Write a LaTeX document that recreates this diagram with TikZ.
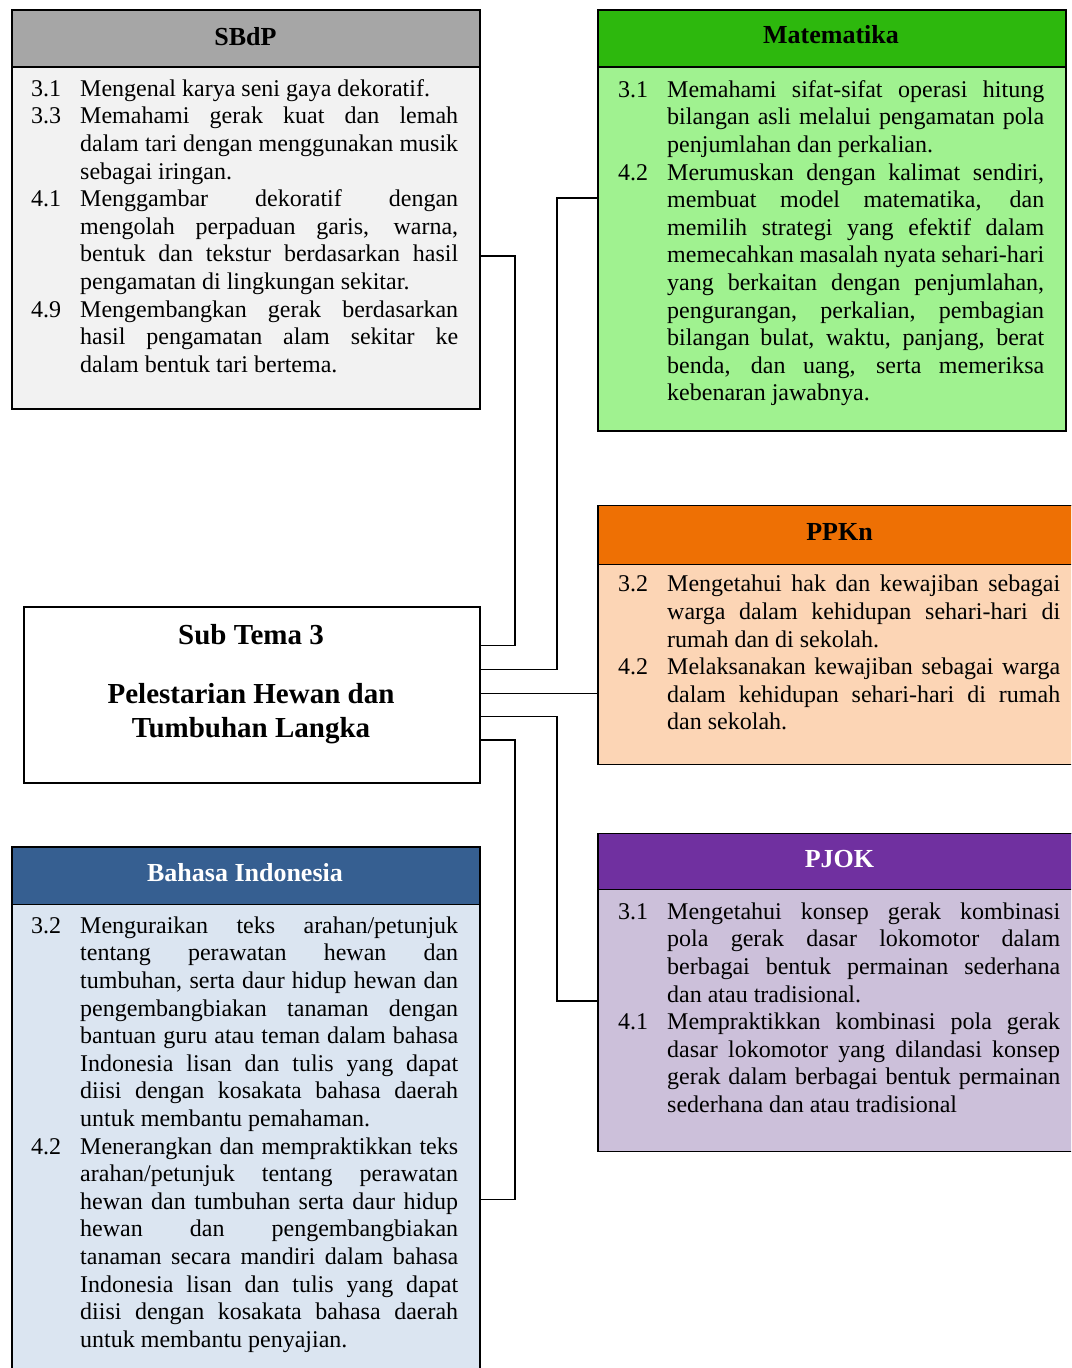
\documentclass[tikz,border=0pt]{standalone}
\usepackage{fontspec}
\setmainfont{Liberation Serif}

\definecolor{sbdpHead}{HTML}{A6A6A6}
\definecolor{sbdpBody}{HTML}{F2F2F2}
\definecolor{matHead}{HTML}{2DB80D}
\definecolor{matBody}{HTML}{A0F290}
\definecolor{ppknHead}{HTML}{EE7004}
\definecolor{ppknBody}{HTML}{FCD5B5}
\definecolor{pjokHead}{HTML}{7030A0}
\definecolor{pjokBody}{HTML}{CCC0DA}
\definecolor{bindHead}{HTML}{365F91}
\definecolor{bindBody}{HTML}{DBE5F1}

% justified competency lines with a hanging number column
\newlength\kdnum \setlength\kdnum{49pt}
\newcommand\kdfirst[2]{\hbox to \hsize{\strut\makebox[\kdnum][l]{#1}\hbox to \dimexpr\hsize-\kdnum\relax{#2}}}
\newcommand\kdsingle[2]{\hbox to \hsize{\strut\makebox[\kdnum][l]{#1}#2\hfil}}
\newcommand\kdline[1]{\hbox to \hsize{\strut\hskip\kdnum\hbox to \dimexpr\hsize-\kdnum\relax{#1}}}
\newcommand\kdlast[1]{\hbox to \hsize{\strut\hskip\kdnum #1\hfil}}
\newcommand\kdblock[2]{\vbox{\fontsize{24}{27.6}\selectfont\hsize=#1\relax #2}}

\begin{document}
\begin{tikzpicture}[x=1pt,y=-1pt,
  panel/.style={draw=black, line width=1.6pt, anchor=north west, inner sep=0pt},
  head/.style={anchor=base, inner sep=0pt, font=\fontsize{26}{30}\selectfont\bfseries},
  listtext/.style={anchor=north west, inner sep=0pt},
  subtitle/.style={anchor=base, inner sep=0pt, font=\fontsize{29}{34}\selectfont\bfseries},
  link/.style={draw=black, line width=1.6pt}]
\useasboundingbox (0,0) rectangle (1071,1368);
\clip (0,0) rectangle (1071,1368);

% ---------- SBdP ----------
\node[panel, fill=sbdpBody, minimum width=468pt, minimum height=399pt] (sbdp) at (11,9) {};
\node[panel, fill=sbdpHead, minimum width=468pt, minimum height=57pt] (sbdp-bar) at (11,9) {};
\node[head] (sbdp-title) at (245.5,45.5) {SBdP};
\node[listtext] (sbdp-text) at (31,76.7) {\kdblock{427pt}{%
  \kdsingle{3.1}{Mengenal karya seni gaya dekoratif.}
  \kdfirst{3.3}{Memahami gerak kuat dan lemah}
  \kdline{dalam tari dengan menggunakan musik}
  \kdlast{sebagai iringan.}
  \kdfirst{4.1}{Menggambar dekoratif dengan}
  \kdline{mengolah perpaduan garis, warna,}
  \kdline{bentuk dan tekstur berdasarkan hasil}
  \kdlast{pengamatan di lingkungan sekitar.}
  \kdfirst{4.9}{Mengembangkan gerak berdasarkan}
  \kdline{hasil pengamatan alam sekitar ke}
  \kdlast{dalam bentuk tari bertema.}}};

% ---------- Matematika ----------
\node[panel, fill=matBody, minimum width=468pt, minimum height=421pt] (mat) at (597,9) {};
\node[panel, fill=matHead, minimum width=468pt, minimum height=57pt] (mat-bar) at (597,9) {};
\node[head] (mat-title) at (831,43.5) {Matematika};
\node[listtext] (mat-text) at (618,77.7) {\kdblock{426pt}{%
  \kdfirst{3.1}{Memahami sifat-sifat operasi hitung}
  \kdline{bilangan asli melalui pengamatan pola}
  \kdlast{penjumlahan dan perkalian.}
  \kdfirst{4.2}{Merumuskan dengan kalimat sendiri,}
  \kdline{membuat model matematika, dan}
  \kdline{memilih strategi yang efektif dalam}
  \kdline{memecahkan masalah nyata sehari-hari}
  \kdline{yang berkaitan dengan penjumlahan,}
  \kdline{pengurangan, perkalian, pembagian}
  \kdline{bilangan bulat, waktu, panjang, berat}
  \kdline{benda, dan uang, serta memeriksa}
  \kdlast{kebenaran jawabnya.}}};

% ---------- PPKn ----------
\node[panel, fill=ppknBody, minimum width=485pt, minimum height=259pt] (ppkn) at (597,504.5) {};
\node[panel, fill=ppknHead, minimum width=485pt, minimum height=59pt] (ppkn-bar) at (597,504.5) {};
\node[head] (ppkn-title) at (839.5,540) {PPKn};
\node[listtext] (ppkn-text) at (618,572.4) {\kdblock{442pt}{%
  \kdfirst{3.2}{Mengetahui hak dan kewajiban sebagai}
  \kdline{warga dalam kehidupan sehari-hari di}
  \kdlast{rumah dan di sekolah.}
  \kdfirst{4.2}{Melaksanakan kewajiban sebagai warga}
  \kdline{dalam kehidupan sehari-hari di rumah}
  \kdlast{dan sekolah.}}};

% ---------- PJOK ----------
\node[panel, fill=pjokBody, minimum width=485pt, minimum height=318pt] (pjok) at (597,832.5) {};
\node[panel, fill=pjokHead, minimum width=485pt, minimum height=56pt] (pjok-bar) at (597,832.5) {};
\node[head, text=white] (pjok-title) at (839.5,867.7) {PJOK};
\node[listtext] (pjok-text) at (618,899.7) {\kdblock{442pt}{%
  \kdfirst{3.1}{Mengetahui konsep gerak kombinasi}
  \kdline{pola gerak dasar lokomotor dalam}
  \kdline{berbagai bentuk permainan sederhana}
  \kdlast{dan atau tradisional.}
  \kdfirst{4.1}{Mempraktikkan kombinasi pola gerak}
  \kdline{dasar lokomotor yang dilandasi konsep}
  \kdline{gerak dalam berbagai bentuk permainan}
  \kdlast{sederhana dan atau tradisional}}};

% ---------- Bahasa Indonesia ----------
\node[panel, fill=bindBody, minimum width=468pt, minimum height=540pt] (bind) at (11,846) {};
\node[panel, fill=bindHead, minimum width=468pt, minimum height=57.5pt] (bind-bar) at (11,846) {};
\node[head, text=white] (bind-title) at (245,881.7) {Bahasa Indonesia};
\node[listtext] (bind-text) at (31,913.7) {\kdblock{427pt}{%
  \kdfirst{3.2}{Menguraikan teks arahan/petunjuk}
  \kdline{tentang perawatan hewan dan}
  \kdline{tumbuhan, serta daur hidup hewan dan}
  \kdline{pengembangbiakan tanaman dengan}
  \kdline{bantuan guru atau teman dalam bahasa}
  \kdline{Indonesia lisan dan tulis yang dapat}
  \kdline{diisi dengan kosakata bahasa daerah}
  \kdlast{untuk membantu pemahaman.}
  \kdfirst{4.2}{Menerangkan dan mempraktikkan teks}
  \kdline{arahan/petunjuk tentang perawatan}
  \kdline{hewan dan tumbuhan serta daur hidup}
  \kdline{hewan dan pengembangbiakan}
  \kdline{tanaman secara mandiri dalam bahasa}
  \kdline{Indonesia lisan dan tulis yang dapat}
  \kdline{diisi dengan kosakata bahasa daerah}
  \kdlast{untuk membantu penyajian.}}};

% ---------- central theme ----------
\node[panel, fill=white, minimum width=456pt, minimum height=176pt] (sub) at (23,606) {};
\node[subtitle] (sub-l1) at (251,644) {Sub Tema 3};
\node[subtitle] (sub-l2) at (251,703) {Pelestarian Hewan dan};
\node[subtitle] (sub-l3) at (251,737) {Tumbuhan Langka};

% ---------- connectors ----------
\draw[link] (sub.east |- 0,645.5) -| (515,256) -- (sbdp.east |- 0,256);
\draw[link] (sub.east |- 0,669.5) -| (557,198) -- (mat.west |- 0,198);
\draw[link] (sub.east |- 0,693.5) -- (ppkn.west |- 0,693.5);
\draw[link] (sub.east |- 0,716.5) -| (557,1001) -- (pjok.west |- 0,1001);
\draw[link] (sub.east |- 0,740) -| (515,1199.5) -- (bind.east |- 0,1199.5);
\end{tikzpicture}
\end{document}
